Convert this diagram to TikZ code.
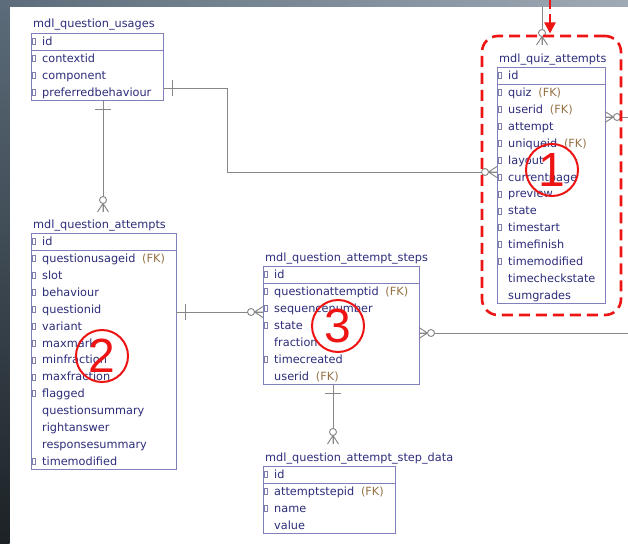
\documentclass[tikz,border=0pt]{standalone}
\usepackage{fontspec}
\setmainfont{DejaVu Sans}
\newfontfamily\numfont{Liberation Sans}
\usetikzlibrary{calc,arrows.meta}
\definecolor{txt}{RGB}{44,44,122}
\definecolor{bord}{RGB}{128,128,188}
\definecolor{fkc}{RGB}{150,115,70}
\definecolor{conncol}{RGB}{135,135,135}
\definecolor{hired}{RGB}{238,20,20}
\definecolor{stripA}{RGB}{92,108,122}
\definecolor{stripB}{RGB}{28,34,38}
\definecolor{stripC}{RGB}{158,170,182}
\tikzset{
  tblbox/.style={draw=bord, line width=0.9pt, inner sep=0pt, outer sep=0pt},
  tbltitle/.style={anchor=base west, text=txt, inner sep=0pt, font=\fontsize{11.3}{13}\selectfont},
  fieldtxt/.style={anchor=base west, text=txt, inner sep=0pt, font=\fontsize{11.3}{13}\selectfont},
  icon/.style={draw=txt!60, line width=0.6pt},
  conn/.style={draw=conncol, line width=0.95pt},
  zmany/.pic={\draw[conn] (0,-5.5) -- (8.5,0) -- (0,5.5) (0,0) -- (8.5,0);
              \draw[conn,fill=white] (12,0) circle[radius=3.5pt];},
  onebar/.pic={\draw[conn] (9,-8) -- (9,8);},
  hlbox/.style={draw=hired, line width=2.6pt, dash pattern=on 11pt off 6pt, rounded corners=16pt, inner sep=0pt, outer sep=0pt},
  numc/.style={circle, draw=hired, line width=2pt, minimum size=52pt, inner sep=0pt, text=hired, font=\numfont\fontsize{48}{48}\selectfont},
}
\newcommand\ertable[7]{%
  \pgfmathsetmacro\erbh{17+16.9*#6}%
  \node[tblbox, minimum width=#4pt, minimum height=\erbh pt, anchor=north west] (#1) at (#2,#3) {};
  \node[tbltitle] (#1-title) at ($(#1.north west)+(2,-5)$) {#5};
  \draw[tblbox] ($(#1.north west)+(0,17)$) -- ($(#1.north east)+(0,17)$);
  \node[fieldtxt] (#1-id) at ($(#1.north west)+(11,12.5)$) {id};
  \draw[icon] ($(#1.north west)+(1.5,5.5)$) rectangle ++(2.5,6);
  \foreach \ic/\tx/\fk [count=\i from 0] in {#7} {
    \pgfmathsetmacro\erb{29.5+16.9*\i}
    \node[fieldtxt] (#1-f\i) at ($(#1.north west)+(11,\erb)$) {\tx\ifnum\fk=1\hspace{0.6em}\textcolor{fkc}{(FK)}\fi};
    \ifnum\ic=1 \draw[icon] ($(#1.north west)+(1.5,\erb-7)$) rectangle ++(2.5,6);\fi
  }
}
\begin{document}
\begin{tikzpicture}[x=1pt,y=-1pt]
\useasboundingbox (0,0) rectangle (628,543);
% background
\fill[white] (0,0) rectangle (628,543);
\shade[top color=stripA, bottom color=stripB] (0,0) rectangle (9.5,543);
\shade[left color=stripA, right color=stripC] (0,0) rectangle (628,7);
% tables
\ertable{qu}{31}{33}{132}{mdl\_question\_usages}{3}{1/contextid/0, 1/component/0, 1/preferredbehaviour/0}
\ertable{qa}{31}{233}{145}{mdl\_question\_attempts}{13}{1/questionusageid/1, 1/slot/0, 1/behaviour/0, 1/questionid/0, 1/variant/0, 1/maxmark/0, 1/minfraction/0, 1/maxfraction/0, 1/flagged/0, 0/questionsummary/0, 0/rightanswer/0, 0/responsesummary/0, 1/timemodified/0}
\ertable{qas}{263}{266}{156}{mdl\_question\_attempt\_steps}{6}{1/questionattemptid/1, 1/sequencenumber/0, 1/state/0, 0/fraction/0, 1/timecreated/0, 0/userid/1}
\ertable{qasd}{263}{466}{132}{mdl\_question\_attempt\_step\_data}{3}{1/attemptstepid/1, 1/name/0, 0/value/0}
\ertable{quiz}{497}{67}{108}{mdl\_quiz\_attempts}{13}{1/quiz/1, 1/userid/1, 1/attempt/0, 1/uniqueid/1, 1/layout/0, 1/currentpage/0, 1/preview/0, 1/state/0, 1/timestart/0, 1/timefinish/0, 1/timemodified/0, 0/timecheckstate/0, 0/sumgrades/0}
% free ends
\coordinate (edgeA) at (628,333);
\coordinate (edgeB) at (628,117);
\coordinate (topin) at (542,7);
% connectors
\draw[conn] ($(qu.north east)+(0,55)$) -- ++(64,0) |- ($(quiz.north west)+(0,105)$);
\draw[conn] ($(qu.south west)+(72,0)$) -- ($(qa.north west)+(72,-21)$);
\draw[conn] ($(qa.north east)+(0,79)$) -- ($(qas.north west)+(0,46)$);
\draw[conn] ($(qas.north east)+(0,67)$) -- (edgeA);
\draw[conn] ($(qas.south west)+(70,0)$) -- ($(qasd.north west)+(70,-22)$);
\draw[conn] ($(quiz.north east)+(0,50)$) -- (edgeB);
\draw[conn] (topin) -- ($(quiz.north west)+(45,-22)$);
% ends
\pic at ($(qu.north east)+(0,55)$) {onebar};
\pic[rotate=180] at ($(quiz.north west)+(0,105)$) {zmany};
\pic[rotate=-90] at ($(qu.south west)+(72,0)$) {onebar};
\pic[rotate=90] at ($(qa.north west)+(72,-21)$) {zmany};
\pic at ($(qa.north east)+(0,79)$) {onebar};
\pic[rotate=180] at ($(qas.north west)+(0,46)$) {zmany};
\pic at ($(qas.north east)+(0,67)$) {zmany};
\pic[rotate=-90] at ($(qas.south west)+(70,0)$) {onebar};
\pic[rotate=90] at ($(qasd.north west)+(70,-22)$) {zmany};
\pic at ($(quiz.north east)+(0,50)$) {zmany};
\pic[rotate=90] at ($(quiz.north west)+(45,-22)$) {zmany};
% highlights
\node[hlbox, minimum width=139pt, minimum height=279pt, anchor=north west] (hl) at (482,36) {};
\coordinate (arrtop) at (550,0);
\draw[hired, line width=2.4pt, dash pattern=on 9pt off 5pt, -{Triangle[length=11pt,width=11pt]}, shorten >=2.5pt] (arrtop) -- (arrtop |- hl.north);
\node[numc] (n1) at (552,170) {1};
\node[numc] (n2) at (102,356) {2};
\node[numc] (n3) at (338,326) {3};
\end{tikzpicture}
\end{document}
